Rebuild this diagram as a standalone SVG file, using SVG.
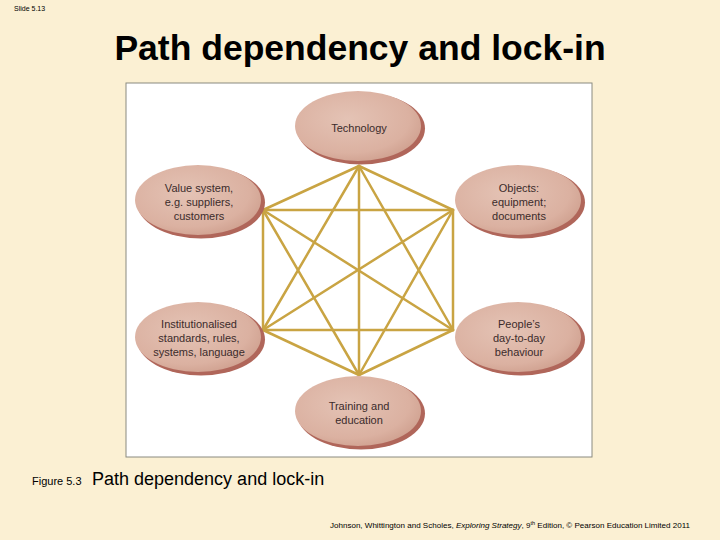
<svg xmlns="http://www.w3.org/2000/svg" width="720" height="540" viewBox="0 0 720 540">
<defs>
<radialGradient id="g" cx="0.42" cy="0.4" r="0.65">
<stop offset="0" stop-color="#E4C3B5"/>
<stop offset="0.75" stop-color="#DBB1A1"/>
<stop offset="1" stop-color="#CFA08F"/>
</radialGradient>
<style>
.sh{fill:#B0665A}
.el{fill:url(#g)}
.nt{font-family:"Liberation Sans",Arial,sans-serif;font-size:11px;fill:#3b2b2b;text-anchor:middle}
.cn line{stroke:#C9A443;stroke-width:2.5;stroke-linecap:round}
</style>
</defs>
<rect width="720" height="540" fill="#FBF0D3"/>
<text x="14" y="11" font-family="Liberation Sans,Arial,sans-serif" font-size="7" fill="#000">Slide 5.13</text>
<text x="360" y="60" font-family="Liberation Sans,Arial,sans-serif" font-size="35.5" font-weight="bold" text-anchor="middle" fill="#000">Path dependency and lock-in</text>
<rect x="126" y="83" width="466" height="374" fill="#FFFFFF" stroke="#8A8A80" stroke-width="1"/>
<g class="cn" id="connectors">
<line x1="359" y1="166" x2="263" y2="210"/>
<line x1="359" y1="166" x2="453" y2="210"/>
<line x1="359" y1="166" x2="263" y2="330"/>
<line x1="359" y1="166" x2="453" y2="330"/>
<line x1="359" y1="166" x2="359" y2="375"/>
<line x1="263" y1="210" x2="453" y2="210"/>
<line x1="263" y1="210" x2="263" y2="330"/>
<line x1="263" y1="210" x2="453" y2="330"/>
<line x1="263" y1="210" x2="359" y2="375"/>
<line x1="453" y1="210" x2="263" y2="330"/>
<line x1="453" y1="210" x2="453" y2="330"/>
<line x1="453" y1="210" x2="359" y2="375"/>
<line x1="263" y1="330" x2="453" y2="330"/>
<line x1="263" y1="330" x2="359" y2="375"/>
<line x1="453" y1="330" x2="359" y2="375"/>
</g>
<g id="technology">
<ellipse class="sh" cx="361" cy="128.5" rx="64" ry="36"/>
<ellipse class="el" cx="358" cy="126" rx="63" ry="35"/>
<text class="nt" x="359" y="132">Technology</text>
</g>
<g id="value-system">
<ellipse class="sh" cx="201" cy="202.5" rx="64" ry="36"/>
<ellipse class="el" cx="198" cy="200" rx="63" ry="35"/>
<text class="nt" x="199" y="192">Value system,</text>
<text class="nt" x="199" y="206">e.g. suppliers,</text>
<text class="nt" x="199" y="220">customers</text>
</g>
<g id="objects">
<ellipse class="sh" cx="521" cy="202.5" rx="64" ry="36"/>
<ellipse class="el" cx="518" cy="200" rx="63" ry="35"/>
<text class="nt" x="519" y="192">Objects:</text>
<text class="nt" x="519" y="206">equipment;</text>
<text class="nt" x="519" y="220">documents</text>
</g>
<g id="institutionalised">
<ellipse class="sh" cx="201" cy="339.5" rx="64" ry="36"/>
<ellipse class="el" cx="198" cy="337" rx="63" ry="35"/>
<text class="nt" x="199" y="328">Institutionalised</text>
<text class="nt" x="199" y="342">standards, rules,</text>
<text class="nt" x="199" y="356">systems, language</text>
</g>
<g id="people">
<ellipse class="sh" cx="521" cy="339.5" rx="64" ry="36"/>
<ellipse class="el" cx="518" cy="337" rx="63" ry="35"/>
<text class="nt" x="519" y="328">People’s</text>
<text class="nt" x="519" y="342">day-to-day</text>
<text class="nt" x="519" y="356">behaviour</text>
</g>
<g id="training">
<ellipse class="sh" cx="361" cy="413.5" rx="64" ry="36"/>
<ellipse class="el" cx="358" cy="411" rx="63" ry="35"/>
<text class="nt" x="359" y="410">Training and</text>
<text class="nt" x="359" y="424">education</text>
</g>
<text x="32" y="485" font-family="Liberation Sans,Arial,sans-serif" font-size="11" fill="#000">Figure 5.3</text>
<text x="92" y="485" font-family="Liberation Sans,Arial,sans-serif" font-size="18" fill="#000">Path dependency and lock-in</text>
<text x="330" y="528" font-family="Liberation Sans,Arial,sans-serif" font-size="8" fill="#000" textLength="360" lengthAdjust="spacingAndGlyphs">Johnson, Whittington and Scholes, <tspan font-style="italic">Exploring Strategy</tspan>, 9<tspan font-size="5.5" dy="-3">th</tspan><tspan dy="3"> Edition, © Pearson Education Limited 2011</tspan></text>
</svg>
